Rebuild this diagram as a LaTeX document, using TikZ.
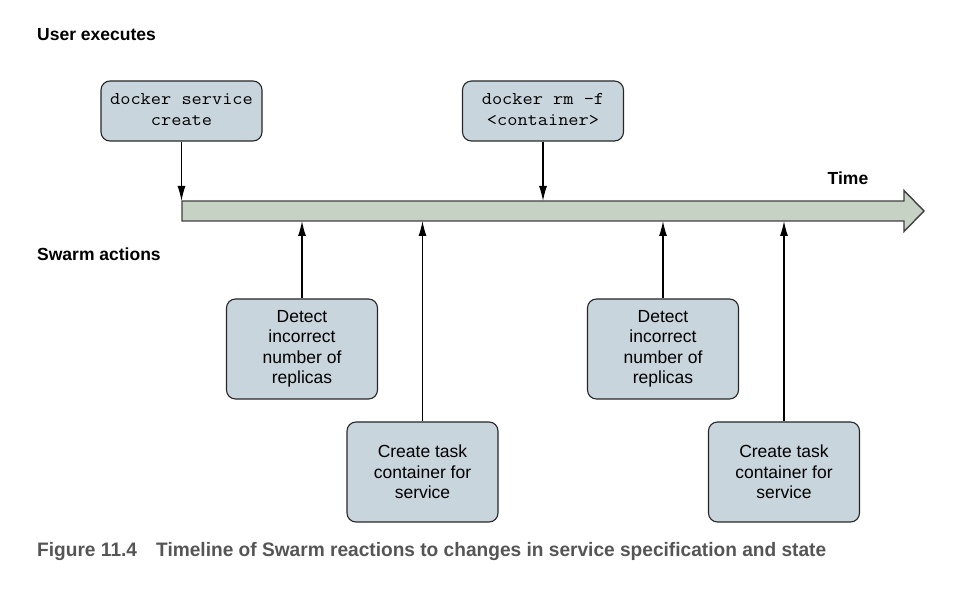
\documentclass[tikz,border=0pt]{standalone}
\usepackage{fontspec}
\setmainfont{Liberation Sans}
\usetikzlibrary{arrows.meta}
\definecolor{boxfill}{HTML}{C8D5DC}
\definecolor{barfill}{HTML}{C6D3C4}
\definecolor{capgray}{HTML}{555555}
\newcommand{\cmdtext}[1]{\scalebox{1.1}[1]{\ttfamily\fontsize{18}{20.5}\selectfont\begin{tabular}{@{}c@{}}#1\end{tabular}}}
\tikzset{
  boxnode/.style={draw=black!85, fill=boxfill, line width=1.1pt, rounded corners=9pt,
    align=center, inner sep=0pt, font=\fontsize{17.5}{20.5}\selectfont},
  cmdbox/.style={boxnode, minimum width=161pt, minimum height=60pt},
  actbox/.style={boxnode, minimum width=151pt, minimum height=100pt},
  conn/.style={line width=1.2pt, -{Latex[length=15pt,width=8pt]}},
  heading/.style={font=\bfseries\fontsize{17.5}{20}\selectfont, inner sep=0pt, anchor=base west}
}
\begin{document}
\begin{tikzpicture}[x=1pt,y=1pt]
\useasboundingbox (0,0) rectangle (956,600);
% timeline
\coordinate (bartop) at (0,399);
\coordinate (barbot) at (0,379);
\draw[draw=black!75, fill=barfill, line width=1.4pt, line join=miter]
  (182,379) -- (182,399) -- (904,399) -- (904,409.5) -- (924,389) -- (904,368.5) -- (904,379) -- cycle;
\node[heading, anchor=base] (time) at (848,415) {Time};
% headings
\node[heading] (user) at (37,559) {User executes};
\node[heading] (swarm) at (37,339) {Swarm actions};
% boxes
\node[cmdbox] (box1) at (181.5,489) {\cmdtext{docker service\\create}};
\node[cmdbox] (box2) at (543,489) {\cmdtext{docker rm -f\\<container>}};
\node[actbox] (det1) at (302,251) {Detect\\incorrect\\number of\\replicas};
\node[actbox] (cre1) at (422.5,128) {Create task\\container for\\service};
\node[actbox] (det2) at (663,251) {Detect\\incorrect\\number of\\replicas};
\node[actbox] (cre2) at (784,128) {Create task\\container for\\service};
% connectors
\draw[conn] (box1.south) -- (box1.south |- bartop);
\draw[conn] (box2.south) -- (box2.south |- bartop);
\draw[conn] (det1.north) -- (det1.north |- barbot);
\draw[conn] (cre1.north) -- (cre1.north |- barbot);
\draw[conn] (det2.north) -- (det2.north |- barbot);
\draw[conn] (cre2.north) -- (cre2.north |- barbot);
% caption
\node[inner sep=0pt, anchor=base west, text=capgray] (cap) at (37,44)
  {\resizebox{789pt}{\height}{\bfseries\fontsize{19.5}{22}\selectfont Figure 11.4\quad Timeline of Swarm reactions to changes in service specification and state}};
\end{tikzpicture}
\end{document}
